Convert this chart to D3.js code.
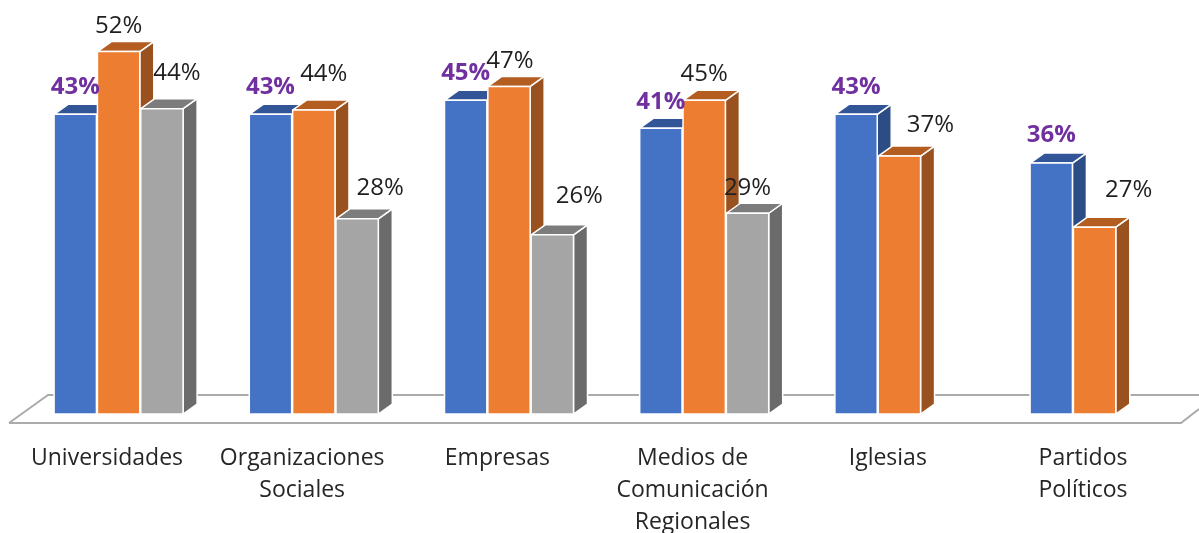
<!DOCTYPE html>
<html><head><meta charset="utf-8">
<script src="https://cdnjs.cloudflare.com/ajax/libs/d3/7.8.5/d3.min.js"></script>
<style>html,body{margin:0;padding:0;background:#fff;overflow:hidden}svg{display:block;filter:blur(0.4px)}</style>
</head><body><svg id="c" width="1199" height="533"></svg>
<script>
const categories = [["Universidades"],["Organizaciones","Sociales"],["Empresas"],["Medios de","Comunicación","Regionales"],["Iglesias"],["Partidos","Políticos"]];
const seriesNames = ["A","B","C"];
const seriesA = [43,43,45,41,43,36];
const seriesB = [52,43.6,47,45,37,26.8];
const seriesC = [43.8,28,25.7,28.8,null,null];
const allSeries = [seriesA,seriesB,seriesC];

// layout only: manual data label nudges, [dx, dy] relative to top-centre of each bar
const labelNudgeA = [[0,-20],[0,-20],[0,-20],[0,-19],[0,-20],[0,-21]];
const labelNudgeB = [[0,-19],[10,-29],[1,-18],[0,-19],[31,-24],[34,-30]];
const labelNudgeC = [[15,-29],[23,-24],[27,-32],[0,-18],null,null];
const nudges = [labelNudgeA,labelNudgeB,labelNudgeC];

const faces = [
 {front:"#4472C4",top:"#325597",side:"#2B4C85"},
 {front:"#ED7D31",top:"#B35D21",side:"#99521F"},
 {front:"#A5A5A5",top:"#7C7C7C",side:"#6B6B6B"}];
const depthX=14, depthY=10, baseY=414;

const svg=d3.select("#c");
const font="'Open Sans',sans-serif";
const x0=d3.scaleBand().domain(categories.map((d,i)=>i)).range([53.6,1159.6]).paddingInner(0.334);
const x1=d3.scaleBand().domain(seriesNames.map((d,i)=>i)).range([0,x0.bandwidth()]);
const y=d3.scaleLinear().domain([0,52]).range([baseY,baseY-52*6.97]);

// floor
const floor=svg.append("g").attr("fill","none").attr("stroke","#ABABAB").attr("stroke-width",2);
floor.append("path").attr("d","M9,423 L1181,423 L1199,409");
floor.append("path").attr("d","M9,423 L48,395 L1199,395");

const fmt=d=>Math.round(d)+"%";
const marks=svg.append("g");
const labels=svg.append("g").attr("font-family",font).attr("font-size",24).attr("text-anchor","middle");

categories.forEach((cat,c)=>{
  const g=marks.append("g").attr("transform",`translate(${x0(c)},0)`);
  allSeries.forEach((vals,s)=>{
    const v=vals[c];
    if(v==null) return;
    const l=x1(s)+0.5, w=x1.bandwidth()-1, t=y(v), b=y(0), f=faces[s];
    const bar=g.append("g").attr("stroke","#fff").attr("stroke-width",1.5).attr("stroke-linejoin","round");
    bar.append("path").attr("fill",f.side)
      .attr("d",`M${l+w},${t}L${l+w+depthX},${t-depthY}L${l+w+depthX},${b-depthY}L${l+w},${b}Z`);
    bar.append("path").attr("fill",f.top)
      .attr("d",`M${l},${t}L${l+depthX},${t-depthY}L${l+w+depthX},${t-depthY}L${l+w},${t}Z`);
    bar.append("rect").attr("fill",f.front).attr("x",l).attr("y",t).attr("width",w).attr("height",b-t);
    const n=nudges[s][c];
    labels.append("text").attr("x",x0(c)+l+w/2+n[0]).attr("y",t+n[1])
      .attr("fill",s===0?"#7030A0":"#1f1f1f").attr("font-weight",s===0?700:400).text(fmt(v));
  });
  const t=svg.append("text").attr("font-family",font).attr("font-size",23).attr("fill","#262626").attr("text-anchor","middle");
  cat.forEach((ln,i)=>t.append("tspan").attr("x",x0(c)+x0.bandwidth()/2-11.6).attr("y",465+i*32).text(ln));
});
</script></body></html>
